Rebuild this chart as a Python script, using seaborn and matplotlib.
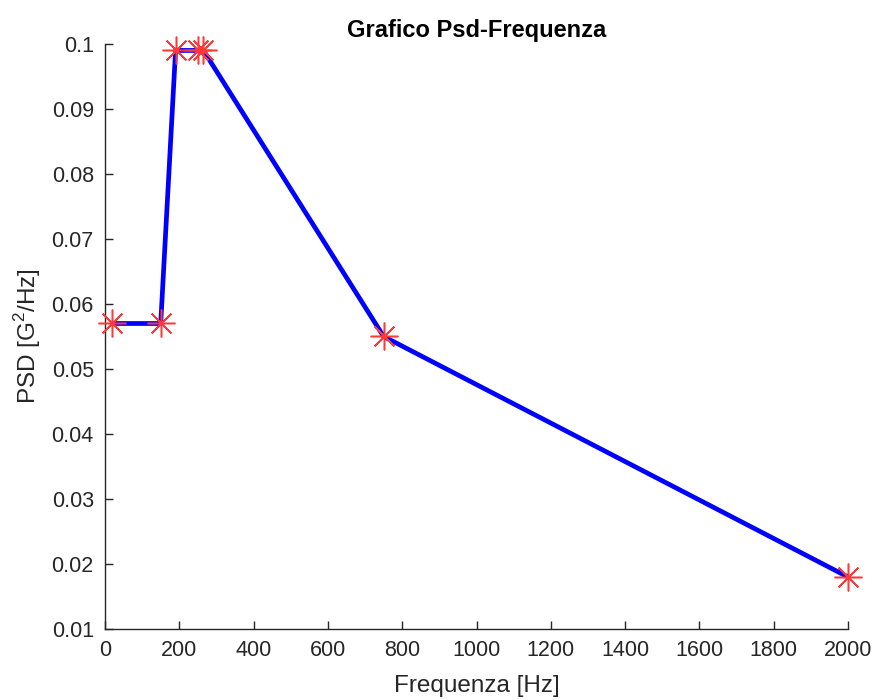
import seaborn as sns
from matplotlib import pyplot as plt
import pandas as pd

#--------------------------Data------------------------------------------------
freq = [20, 150, 190, 250, 265, 750, 2000]
psd = [0.057, 0.057, 0.099, 0.099, 0.099, 0.055, 0.018]

x_ticks = [0, 200, 400, 600, 800, 1000, 1200, 1400, 1600, 1800, 2000]
y_ticks = [0.01, 0.02, 0.03, 0.04, 0.05, 0.06, 0.07, 0.08, 0.09, 0.1]
y_ticklabels = ['0.01', '0.02', '0.03', '0.04', '0.05', '0.06', '0.07', '0.08', '0.09', '0.1']

df = pd.DataFrame({'Frequenza': freq, 'PSD': psd})

#--------------------------Style-----------------------------------------------
sns.set_style('white')
plt.rcParams['font.family'] = ['Liberation Sans', 'DejaVu Sans']
plt.rcParams['mathtext.fontset'] = 'custom'
plt.rcParams['mathtext.rm'] = 'Liberation Sans'

#--------------------------Plot------------------------------------------------
fig = plt.figure(figsize=(8.77, 7.0), dpi=100)
ax = fig.add_axes([0.1197, 0.1014, 0.8473, 0.8358])

sns.lineplot(data=df, x='Frequenza', y='PSD', color='#0000ff', lw=3.4, ax=ax, zorder=2)
sns.lineplot(data=df, x='Frequenza', y='PSD', color='#ff2020', linestyle='none',
             marker=(8, 2, 0), markersize=20, markeredgewidth=1.1,
             markeredgecolor='#ff3838', clip_on=False, ax=ax, zorder=3)

ax.set_xlim(0, 2000)
ax.set_ylim(0.01, 0.1)
ax.set_xticks(x_ticks)
ax.set_xticklabels([str(t) for t in x_ticks])
ax.set_yticks(y_ticks)
ax.set_yticklabels(y_ticklabels)
ax.tick_params(direction='in', length=6, width=1, labelsize=15.5, colors='#262626',
               bottom=True, left=True, pad=8)

for side in ['top', 'right']:
    ax.spines[side].set_visible(False)
for side in ['left', 'bottom']:
    ax.spines[side].set_color('#262626')
    ax.spines[side].set_linewidth(1)

ax.set_xlabel('Frequenza [Hz]', fontsize=17.5, color='#262626', labelpad=10)
ax.set_ylabel('PSD [G$^2$/Hz]', fontsize=17.5, color='#262626', labelpad=6)
ax.set_title('Grafico Psd-Frequenza', fontsize=17, weight='bold', color='black', pad=5)

fig.savefig('out.png', dpi=100)
